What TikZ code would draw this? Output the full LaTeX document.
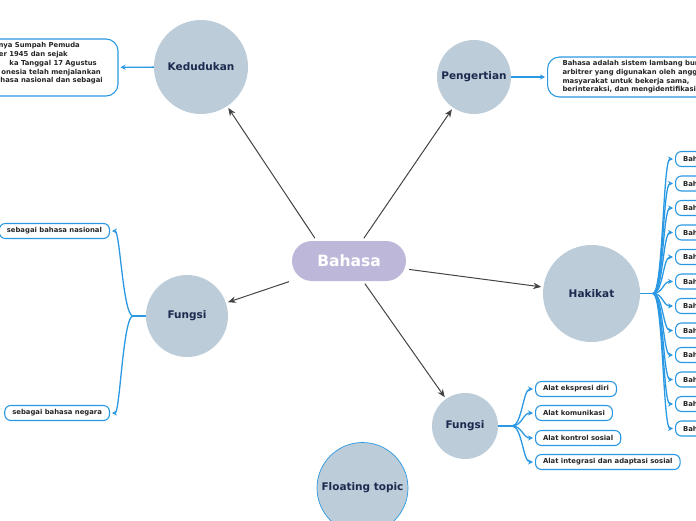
\documentclass[tikz,border=0pt]{standalone}
\usepackage{fontspec}
\setmainfont{DejaVu Sans}
\usetikzlibrary{arrows.meta}
\definecolor{topicfill}{RGB}{188,204,216}
\definecolor{rootfill}{RGB}{189,184,218}
\definecolor{navy}{RGB}{27,42,78}
\definecolor{branchblue}{RGB}{42,152,226}
\definecolor{linkgray}{RGB}{68,68,68}
\begin{document}
\begin{tikzpicture}[x=1pt, y=-1pt,
    topic/.style={circle, fill=topicfill, text=navy, inner sep=0pt, font=\bfseries\fontsize{10.5}{12}\selectfont},
    leaf/.style={draw=branchblue, line width=1.1pt, rounded corners=6pt, fill=white, text=black!85, inner xsep=7.5pt, inner ysep=0pt, minimum height=15pt, font=\bfseries\fontsize{6.85}{8.7}\selectfont},
    descline/.style={anchor=east, inner sep=0pt, text=black!85, font=\bfseries\fontsize{6.85}{8.7}\selectfont},
    link/.style={draw=linkgray, line width=1pt, -{Stealth[length=8pt,width=6.5pt]}, shorten <=3pt, shorten >=2pt},
    branch/.style={draw=branchblue, line width=1.3pt},
    tip/.style={-{Stealth[length=5pt,width=5pt]}, shorten >=2pt}]
    \useasboundingbox (0,0) rectangle (696,520);
    \clip (0,0) rectangle (696,520);

    % central topic
    \node[fill=rootfill, rounded corners=20pt, minimum width=114pt, minimum height=40pt, text=white, font=\bfseries\fontsize{15.5}{18}\selectfont] (bahasa) at (349,261) {Bahasa};

    % main topics
    \node[topic, minimum size=94pt] (ked) at (201,67) {Kedudukan};
    \node[topic, minimum size=74pt] (peng) at (474,77) {Pengertian};
    \node[topic, minimum size=82pt] (fungsiL) at (187,316) {Fungsi};
    \node[topic, minimum size=97pt] (hak) at (591.5,293.5) {Hakikat};
    \node[topic, minimum size=66pt] (fungsiR) at (465,426) {Fungsi};
    \node[topic, minimum size=91pt, draw=branchblue, line width=0.7pt] (floating) at (362.5,488) {Floating topic};

    \draw[link] (bahasa.148) -- (ked);
    \draw[link] (bahasa.57) -- (peng);
    \draw[link] (bahasa.199) -- (fungsiL);
    \draw[link] (bahasa.352) -- (hak);
    \draw[link] (bahasa.305) -- (fungsiR);

    % Kedudukan
    \node[leaf, rounded corners=12pt, minimum width=170pt, minimum height=57pt] (keddesc) at (33,67.5) {};
    \node[descline] (ked1) at (80,46) {nya Sumpah Pemuda};
    \node[descline] (ked2) at (68,55) {er 1945 dan sejak};
    \node[descline] (ked3) at (97,63.5) {ka Tanggal 17 Agustus};
    \node[descline] (ked4) at (101,72.5) {onesia telah menjalankan};
    \node[descline] (ked5) at (103,81) {hasa nasional dan sebagai};
    \draw[branch, tip] (ked) -- (keddesc);

    % Pengertian
    \node[leaf, rounded corners=12pt, anchor=west, align=left, inner xsep=15pt, minimum height=40pt] (pengdesc) at (547,77) {Bahasa adalah sistem lambang bunyi\\arbitrer yang digunakan oleh anggota\\masyarakat untuk bekerja sama,\\berinteraksi, dan mengidentifikasikan diri.};
    \draw[branch, tip] (peng) -- (pengdesc);

    % Fungsi (kiri)
    \node[leaf, anchor=east] (fL1) at (110,231) {sebagai bahasa nasional};
    \node[leaf, anchor=east] (fL2) at (110,413) {sebagai bahasa negara};
    \coordinate (fLj) at (133,316);
    \draw[branch] (fungsiL) -- (fLj);
    \draw[branch, tip] (fLj) .. controls +(-10,0) and +(10,0) .. (fL1.east);
    \draw[branch, tip] (fLj) .. controls +(-10,0) and +(10,0) .. (fL2.east);

    % Hakikat
    \node[leaf, anchor=west] (h1) at (675,159) {Bahasa};
    \node[leaf, anchor=west] (h2) at (675,183.5) {Bahasa};
    \node[leaf, anchor=west] (h3) at (675,208) {Bahasa};
    \node[leaf, anchor=west] (h4) at (675,232.5) {Bahasa};
    \node[leaf, anchor=west] (h5) at (675,257) {Bahasa};
    \node[leaf, anchor=west] (h6) at (675,281.5) {Bahasa};
    \node[leaf, anchor=west] (h7) at (675,306) {Bahasa};
    \node[leaf, anchor=west] (h8) at (675,330.5) {Bahasa};
    \node[leaf, anchor=west] (h9) at (675,355) {Bahasa};
    \node[leaf, anchor=west] (h10) at (675,379.5) {Bahasa};
    \node[leaf, anchor=west] (h11) at (675,404) {Bahasa};
    \node[leaf, anchor=west] (h12) at (675,428.5) {Bahasa};
    \coordinate (hakj) at (653,293.5);
    \draw[branch] (hak) -- (hakj);
    \draw[branch, tip] (hakj) .. controls +(10,0) and +(-12,0) .. (h1.west);
    \draw[branch, tip] (hakj) .. controls +(10,0) and +(-12,0) .. (h2.west);
    \draw[branch, tip] (hakj) .. controls +(10,0) and +(-12,0) .. (h3.west);
    \draw[branch, tip] (hakj) .. controls +(10,0) and +(-12,0) .. (h4.west);
    \draw[branch, tip] (hakj) .. controls +(10,0) and +(-12,0) .. (h5.west);
    \draw[branch, tip] (hakj) .. controls +(10,0) and +(-12,0) .. (h6.west);
    \draw[branch, tip] (hakj) .. controls +(10,0) and +(-12,0) .. (h7.west);
    \draw[branch, tip] (hakj) .. controls +(10,0) and +(-12,0) .. (h8.west);
    \draw[branch, tip] (hakj) .. controls +(10,0) and +(-12,0) .. (h9.west);
    \draw[branch, tip] (hakj) .. controls +(10,0) and +(-12,0) .. (h10.west);
    \draw[branch, tip] (hakj) .. controls +(10,0) and +(-12,0) .. (h11.west);
    \draw[branch, tip] (hakj) .. controls +(10,0) and +(-12,0) .. (h12.west);

    % Fungsi (kanan)
    \node[leaf, anchor=west] (fR1) at (535,389) {Alat ekspresi diri};
    \node[leaf, anchor=west] (fR2) at (535,413) {Alat komunikasi};
    \node[leaf, anchor=west] (fR3) at (535,438) {Alat kontrol sosial};
    \node[leaf, anchor=west] (fR4) at (535,462) {Alat integrasi dan adaptasi sosial};
    \coordinate (fRj) at (512,426);
    \draw[branch] (fungsiR) -- (fRj);
    \draw[branch, tip] (fRj) .. controls +(10,0) and +(-12,0) .. (fR1.west);
    \draw[branch, tip] (fRj) .. controls +(10,0) and +(-12,0) .. (fR2.west);
    \draw[branch, tip] (fRj) .. controls +(10,0) and +(-12,0) .. (fR3.west);
    \draw[branch, tip] (fRj) .. controls +(10,0) and +(-12,0) .. (fR4.west);
\end{tikzpicture}
\end{document}
